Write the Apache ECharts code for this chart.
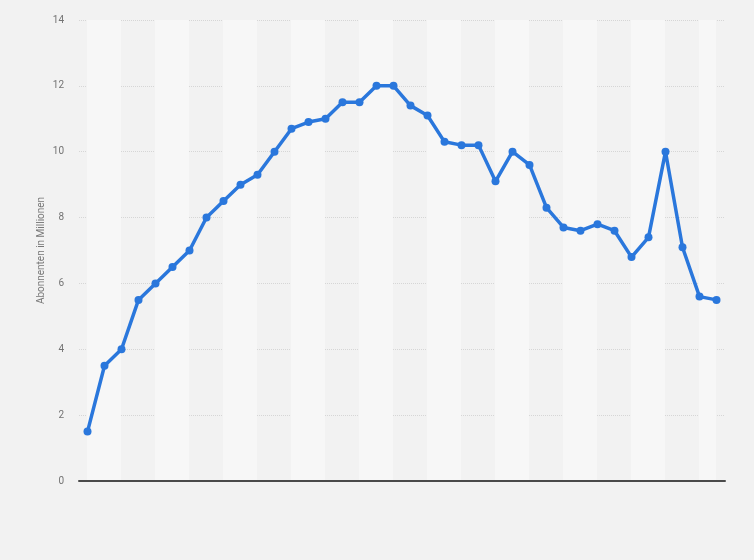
<!DOCTYPE html>
<html>
<head>
<meta charset="utf-8">
<script src="https://cdn.jsdelivr.net/npm/echarts@6/dist/echarts.min.js"></script>
<style>
html,body{margin:0;padding:0;background:#f2f2f2;}
#c{width:754px;height:560px;}
</style>
</head>
<body>
<div id="c"></div>
<script>
// Data (one point per period, no x labels shown in the reference)
const pointIndex = [0,1,2,3,4,5,6,7,8,9,10,11,12,13,14,15,16,17,18,19,20,21,22,23,24,25,26,27,28,29,30,31,32,33,34,35,36,37];
const subscribers = [1.5,3.5,4.0,5.5,6.0,6.5,7.0,8.0,8.5,9.0,9.3,10.0,10.7,10.9,11.0,11.5,11.5,12.0,12.0,11.4,11.1,10.3,10.2,10.2,9.1,10.0,9.6,8.3,7.7,7.6,7.8,7.6,6.8,7.4,10.0,7.1,5.6,5.5];
const yTicks = [0,2,4,6,8,10,12,14];
const yAxisName = 'Abonnenten in Millionen';

const chart = echarts.init(document.getElementById('c'), null, {renderer:'canvas'});
const seriesData = pointIndex.map((x,i)=>[x, subscribers[i]]);

chart.setOption({
  backgroundColor:'#f2f2f2',
  animation:false,
  grid:[
    {left:79, right:29, top:20, bottom:79, containLabel:false},
    {left:87, right:38, top:20, bottom:79, containLabel:false}
  ],
  xAxis:[
    {gridIndex:0, type:'value', min:-0.5, max:37.5,
     axisLine:{show:true, onZero:false, lineStyle:{color:'#4a4a4a', width:2}},
     axisTick:{show:false}, axisLabel:{show:false}, splitLine:{show:false}},
    {gridIndex:1, type:'value', min:0, max:37, interval:2,
     axisLine:{show:false}, axisTick:{show:false}, axisLabel:{show:false}, splitLine:{show:false},
     splitArea:{show:true, areaStyle:{color:['#f7f7f7','rgba(0,0,0,0)']}}}
  ],
  yAxis:[
    {gridIndex:0, type:'value', min:yTicks[0], max:yTicks[yTicks.length-1], interval:2,
     name:yAxisName, nameLocation:'middle', nameGap:33, nameRotate:90, nameMoveOverlap:false,
     nameTextStyle:{color:'#777', fontSize:10, fontFamily:'Roboto, Arial, sans-serif'},
     axisLine:{show:false}, axisTick:{show:false},
     axisLabel:{color:'#737373', fontSize:10, margin:15, fontFamily:'Roboto, Arial, sans-serif',
       formatter:v=> yTicks.includes(v) ? String(v) : ''},
     splitLine:{show:true, lineStyle:{color:'#d6d6d6', type:[1,1], width:1}}},
    {gridIndex:1, type:'value', min:0, max:14, show:false, splitLine:{show:false}}
  ],
  series:[{
    type:'line', xAxisIndex:0, yAxisIndex:0,
    data:seriesData,
    symbol:'circle', symbolSize:8,
    lineStyle:{color:'#2a77dc', width:3.5},
    itemStyle:{color:'#2a77dc'},
    clip:false, z:5
  }]
});
</script>
</body>
</html>
